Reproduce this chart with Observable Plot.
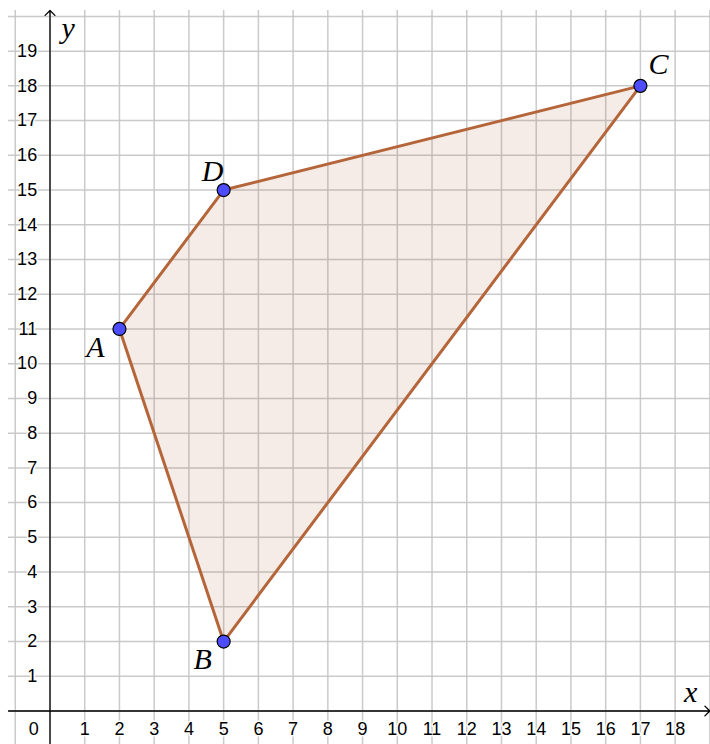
<!DOCTYPE html>
<html>
<head>
<meta charset="utf-8">
<script src="https://cdn.jsdelivr.net/npm/d3@7"></script>
<script src="https://cdn.jsdelivr.net/npm/@observablehq/plot@0.6"></script>
<style>
  html, body { margin: 0; padding: 0; background: #fff; }
  svg { display: block; }
</style>
</head>
<body>
<div id="chart"></div>
<script>
// Data
const pointNames = ["A", "B", "C", "D"];
const pointX = [2, 5, 17, 5];
const pointY = [11, 2, 18, 15];
const xTickValues = [0, 1, 2, 3, 4, 5, 6, 7, 8, 9, 10, 11, 12, 13, 14, 15, 16, 17, 18];
const yTickValues = [1, 2, 3, 4, 5, 6, 7, 8, 9, 10, 11, 12, 13, 14, 15, 16, 17, 18, 19];
const gridX = d3.range(-1, 20);
const gridY = d3.range(0, 21);

const W = 710, H = 744;
const unit = 34.73;
const x0px = 49.5, y0px = 710.5;
const xDomain = [-x0px / unit, (W - x0px) / unit];
const yDomain = [(y0px - H) / unit, y0px / unit];

const pts = pointNames.map((n, i) => ({name: n, x: pointX[i], y: pointY[i]}));
const poly = [...pts, pts[0]];

// label offsets (style)
const labelOffset = {A: [-24, 18], B: [-21, 18], C: [18, -21], D: [-11, -19]};

const gridTop = (y0px - 10) / unit;
const gridLeft = (8 - x0px) / unit;
const serif = "Liberation Serif, Times New Roman, serif";
const sans = "Liberation Sans, Arial, sans-serif";

const plot = Plot.plot({
  width: W,
  height: H,
  margin: 0,
  x: {domain: xDomain, axis: null},
  y: {domain: yDomain, axis: null},
  marks: [
    Plot.ruleX(gridX, {y1: yDomain[0], y2: gridTop, stroke: "#c4c4c4", strokeWidth: 1.5, strokeOpacity: 0.9}),
    Plot.ruleY(gridY, {x1: gridLeft, x2: xDomain[1], stroke: "#c4c4c4", strokeWidth: 1.5, strokeOpacity: 0.9}),
    // polygon
    Plot.line(poly, {x: "x", y: "y", fill: "#b5653a", fillOpacity: 0.12, stroke: "#b5653a", strokeWidth: 3, strokeLinejoin: "round", curve: "linear"}),
    // axes
    Plot.arrow([{x1: gridLeft, y1: 0, x2: xDomain[1] - 0.02, y2: 0}], {x1: "x1", y1: "y1", x2: "x2", y2: "y2", stroke: "#000", strokeWidth: 1.3, headLength: 8, headAngle: 90}),
    Plot.arrow([{x1: 0, y1: yDomain[0], x2: 0, y2: gridTop}], {x1: "x1", y1: "y1", x2: "x2", y2: "y2", stroke: "#000", strokeWidth: 1.3, headLength: 8, headAngle: 90}),
    // tick labels
    Plot.text(xTickValues, {
      x: d => d === 0 ? -0.47 : d, y: -0.53,
      text: d => String(d), fontSize: 18, fontFamily: sans,
      fill: "#000", stroke: "white", strokeWidth: 3, paintOrder: "stroke"
    }),
    Plot.text(yTickValues, {
      x: -0.37, y: d => d, text: d => String(d), textAnchor: "end",
      fontSize: 18, fontFamily: sans,
      fill: "#000", stroke: "white", strokeWidth: 3, paintOrder: "stroke"
    }),
    // axis names
    Plot.text([{t: "x", x: 18.45, y: 0.53}], {x: "x", y: "y", text: "t", fontSize: 30, fontStyle: "italic", fontFamily: serif, fill: "#000"}),
    Plot.text([{t: "y", x: 0.52, y: 19.65}], {x: "x", y: "y", text: "t", fontSize: 30, fontStyle: "italic", fontFamily: serif, fill: "#000"}),
    // points
    Plot.dot(pts, {x: "x", y: "y", r: 6.5, fill: "#4d4dff", stroke: "#000", strokeWidth: 1.2}),
    // point labels
    ...pts.map(p => Plot.text([p], {
      x: "x", y: "y", text: "name", dx: labelOffset[p.name][0], dy: labelOffset[p.name][1],
      fontSize: 30, fontStyle: "italic", fontFamily: serif, fill: "#000"
    }))
  ]
});

document.getElementById("chart").appendChild(plot);
</script>
</body>
</html>
